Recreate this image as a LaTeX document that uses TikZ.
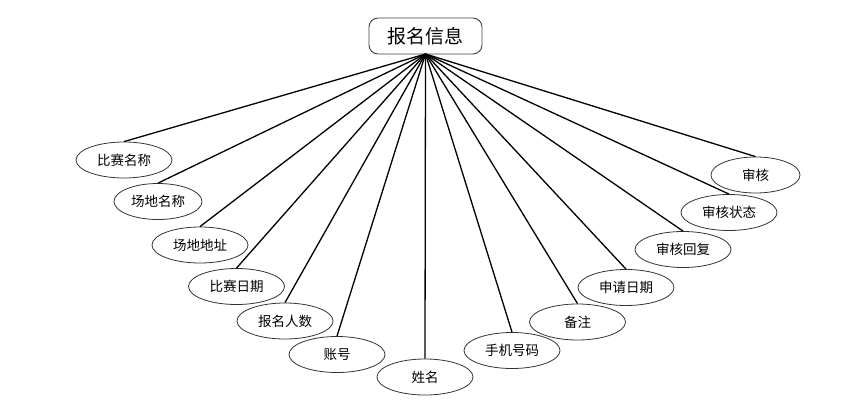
\documentclass[tikz,border=0pt]{standalone}
\usepackage{fontspec}
\newfontfamily\cjk{Noto Sans CJK SC}
\usetikzlibrary{shapes.geometric}
\begin{document}
\begin{tikzpicture}[x=1pt,y=-1pt,
  attr/.style={ellipse,draw=black!80,line width=0.8pt,minimum width=96pt,minimum height=36pt,inner sep=0pt,font=\cjk\fontsize{13.5}{15}\selectfont},
  rootbox/.style={rounded corners=9pt,draw=black!75,line width=0.9pt,minimum width=113pt,minimum height=36pt,inner sep=0pt,font=\cjk\fontsize{19}{21}\selectfont},
  link/.style={line width=1.3pt,black}]
\useasboundingbox (0,0) rectangle (860,405);
\node[rootbox] (r) at (425.5,36) {报名信息};
\coordinate (c) at (425.5,54);
\node[attr] (a1) at (124,160) {比赛名称};
\node[attr,minimum width=88pt] (a2) at (158,201.5) {场地名称};
\node[attr] (a3) at (200,245) {场地地址};
\node[attr] (a4) at (236.5,286.5) {比赛日期};
\node[attr] (a5) at (285,321) {报名人数};
\node[attr] (a6) at (337,354.5) {账号};
\node[attr] (a7) at (425,377) {姓名};
\node[attr] (a8) at (512,350.5) {手机号码};
\node[attr] (a9) at (577.5,322) {备注};
\node[attr] (a10) at (626,287.5) {申请日期};
\node[attr] (a11) at (683,249.5) {审核回复};
\node[attr] (a12) at (729,212.5) {审核状态};
\node[attr,minimum width=89pt] (a13) at (755.5,175) {审核};
\foreach \i in {1,...,13} \draw[link] (c) -- (a\i.north);
\end{tikzpicture}
\end{document}
